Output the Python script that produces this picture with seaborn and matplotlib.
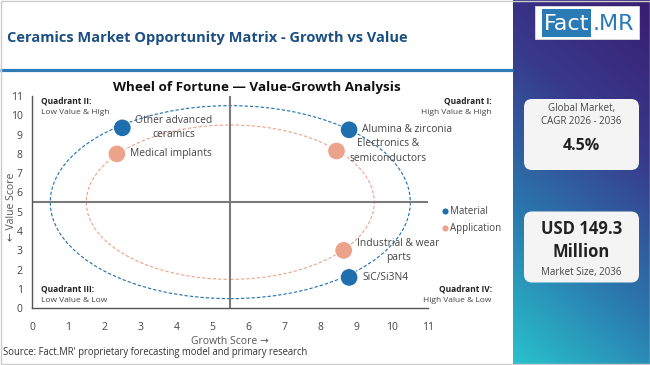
import numpy as np
import pandas as pd
import matplotlib
matplotlib.use("Agg")
import matplotlib.pyplot as plt
import seaborn as sns
from matplotlib.patches import Ellipse, FancyBboxPatch, Rectangle
from matplotlib.colors import LinearSegmentedColormap

# ---------------- data ----------------
segments = ["Other advanced\nceramics", "Medical implants", "Alumina & zirconia",
            "Electronics &\nsemiconductors", "Industrial & wear\nparts", "SiC/Si3N4"]
segment_type = ["Material", "Application", "Material", "Application", "Application", "Material"]
growth_score = [2.5, 2.35, 8.8, 8.45, 8.65, 8.8]
value_score = [9.35, 8.0, 9.25, 8.15, 3.0, 1.6]
type_order = ["Material", "Application"]
ring_radius = [5.0, 4.0]          # one ring per type, same order
ring_center = 5.5
ticks = list(range(0, 12))
quadrant_titles = ["Quadrant I:", "Quadrant II:", "Quadrant III:", "Quadrant IV:"]
quadrant_notes = ["High Value & High", "Low Value & High", "Low Value & Low", "High Value & Low"]

BLUE = "#1f6fae"
SALMON = "#eba38b"
palette = {"Material": BLUE, "Application": SALMON}

df = pd.DataFrame({"segment": segments, "type": segment_type,
                   "growth": growth_score, "value": value_score})

# ---------------- style ----------------
sns.set_theme(style="white")
plt.rcParams['font.family'] = ['Open Sans', 'DejaVu Sans']

W, H = 650, 365
fig = plt.figure(figsize=(6.5, 3.65), dpi=100)
fig.patch.set_facecolor("white")

# background overlay in pixel coordinates
bg = fig.add_axes([0, 0, 1, 1], zorder=0)
bg.axis('off')

px0 = 513
ny, nx = 300, 100
yy, xx = np.mgrid[0:1:ny * 1j, 0:1:nx * 1j]
t = 0.8 * (1 - yy) + 0.25 * xx
cmap = LinearSegmentedColormap.from_list('panel', ['#29c2cd', '#2b77ad', '#383a8c', '#3a1d72'])
bg.imshow(t, cmap=cmap, extent=[px0, W, H, 0], aspect='auto', origin='upper', zorder=0)
bg.set_xlim(0, W)
bg.set_ylim(H, 0)

bg.plot([0, px0], [69.5, 69.5], color='#2f7db8', lw=2.3, solid_capstyle='butt')
bg.text(7, 38, "Ceramics Market Opportunity Matrix - Growth vs Value", fontsize=10.5,
        fontweight='bold', color='#1c4f82', va='center', ha='left')

# logo
bg.add_patch(Rectangle((535, 6), 104, 33, fc='white', ec='#dddddd', lw=0.6, zorder=2))
bg.add_patch(Rectangle((542, 9), 49, 28, fc='#2a7bb5', ec='none', zorder=3))
bg.text(566.5, 23.5, "Fact", fontsize=16, color='white', ha='center', va='center',
        family=['Liberation Sans Narrow', 'DejaVu Sans'], zorder=4)
bg.text(613, 23.5, ".MR", fontsize=16, color='#2a7bb5', ha='center', va='center',
        family=['Liberation Sans Narrow', 'DejaVu Sans'], zorder=4)

# cards
for y0 in (99, 211.5):
    bg.add_patch(FancyBboxPatch((524, y0), 115, 71, boxstyle="round,pad=0,rounding_size=8",
                                fc='#f4f4f4', ec='none', zorder=2))
cx = 581.5
bg.text(cx, 109, "Global Market,", fontsize=7, color='#444', ha='center', va='center', zorder=3)
bg.text(cx, 122, "CAGR 2026 - 2036", fontsize=7, color='#444', ha='center', va='center', zorder=3)
bg.text(cx, 146, "4.5%", fontsize=11.5, fontweight='bold', color='#222', ha='center', va='center', zorder=3)
bg.text(cx, 229, "USD 149.3", fontsize=12, fontweight='bold', color='#222', ha='center', va='center', zorder=3)
bg.text(cx, 252, "Million", fontsize=12, fontweight='bold', color='#222', ha='center', va='center', zorder=3)
bg.text(cx, 272, "Market Size, 2036", fontsize=7, color='#444', ha='center', va='center', zorder=3)

bg.text(257, 88, "Wheel of Fortune \u2014 Value-Growth Analysis", ha='center', va='center',
        fontsize=9.7, fontweight='bold', color='#111')
bg.text(3, 352, "Source: Fact.MR' proprietary forecasting model and primary research",
        fontsize=6.85, color='#333', ha='left', va='center')

# ---------------- main axes ----------------
ax = fig.add_axes([32.3 / W, (H - 308.3) / H, 396 / W, 212.3 / H], zorder=1)
ax.patch.set_alpha(0)
ax.set_xlim(ticks[0], ticks[-1])
ax.set_ylim(ticks[0], ticks[-1])

for typ, r in zip(type_order, ring_radius):
    ax.add_patch(Ellipse((ring_center, ring_center), 2 * r, 2 * r, fill=False,
                         ec=palette[typ], lw=0.8, ls=(0, (3, 1.8)), zorder=1))

ax.axvline(ring_center, color='#7a7a7a', lw=1.5, zorder=2)
ax.axhline(ring_center, color='#7a7a7a', lw=1.5, zorder=2)

sns.scatterplot(data=df, x="growth", y="value", hue="type", hue_order=type_order,
                palette=palette, s=160, edgecolor='white', linewidth=0.6, ax=ax, zorder=3)

for _, row in df.iterrows():
    ax.annotate(row["segment"], (row["growth"], row["value"]), xytext=(9.5, 0),
                textcoords='offset points', ha='left', va='center', multialignment='center',
                fontsize=7.4, color='#444', linespacing=1.4, zorder=4)

handles, labels = ax.get_legend_handles_labels()
ax.legend(handles, labels, frameon=False, loc='center left', bbox_to_anchor=(1.02, 0.414),
          markerscale=0.4, handletextpad=0.0, handlelength=1.0, labelspacing=0.6,
          fontsize=7, labelcolor='#444', borderaxespad=0)

ax.set_xticks(ticks)
ax.set_yticks(ticks)
ax.tick_params(axis='both', length=0, labelsize=7.5, labelcolor='#444')
ax.tick_params(axis='x', pad=10)
ax.tick_params(axis='y', pad=7)
for s in ("top", "right"):
    ax.spines[s].set_visible(False)
for s in ("left", "bottom"):
    ax.spines[s].set_color('#555')
    ax.spines[s].set_linewidth(1)
ax.set_xlabel("Growth Score \u2192", fontsize=7.5, color='#555', labelpad=2)
ax.set_ylabel("\u2190 Value Score", fontsize=7.5, color='#555', va='center')
ax.yaxis.set_label_coords(-0.052, 0.48)

# quadrant labels (data coordinates, outside axes where needed)
q_pos = [(12.76, 10.75, 'right'), (0.24, 10.72, 'left'), (0.24, 1.0, 'left'), (12.76, 1.0, 'right')]
for (qx, qy, qha), qt, qn in zip(q_pos, quadrant_titles, quadrant_notes):
    ax.text(qx, qy, qt, fontsize=6, fontweight='bold', color='#222', ha=qha, va='center', clip_on=False)
    ax.text(qx, qy - 0.6, qn, fontsize=6, color='#444', ha=qha, va='center', clip_on=False)

# border
bg.add_patch(Rectangle((0.5, 0.5), W - 1, H - 1.5, fill=False, ec='#cccccc', lw=1, zorder=10))

fig.savefig("out.png", dpi=100)
